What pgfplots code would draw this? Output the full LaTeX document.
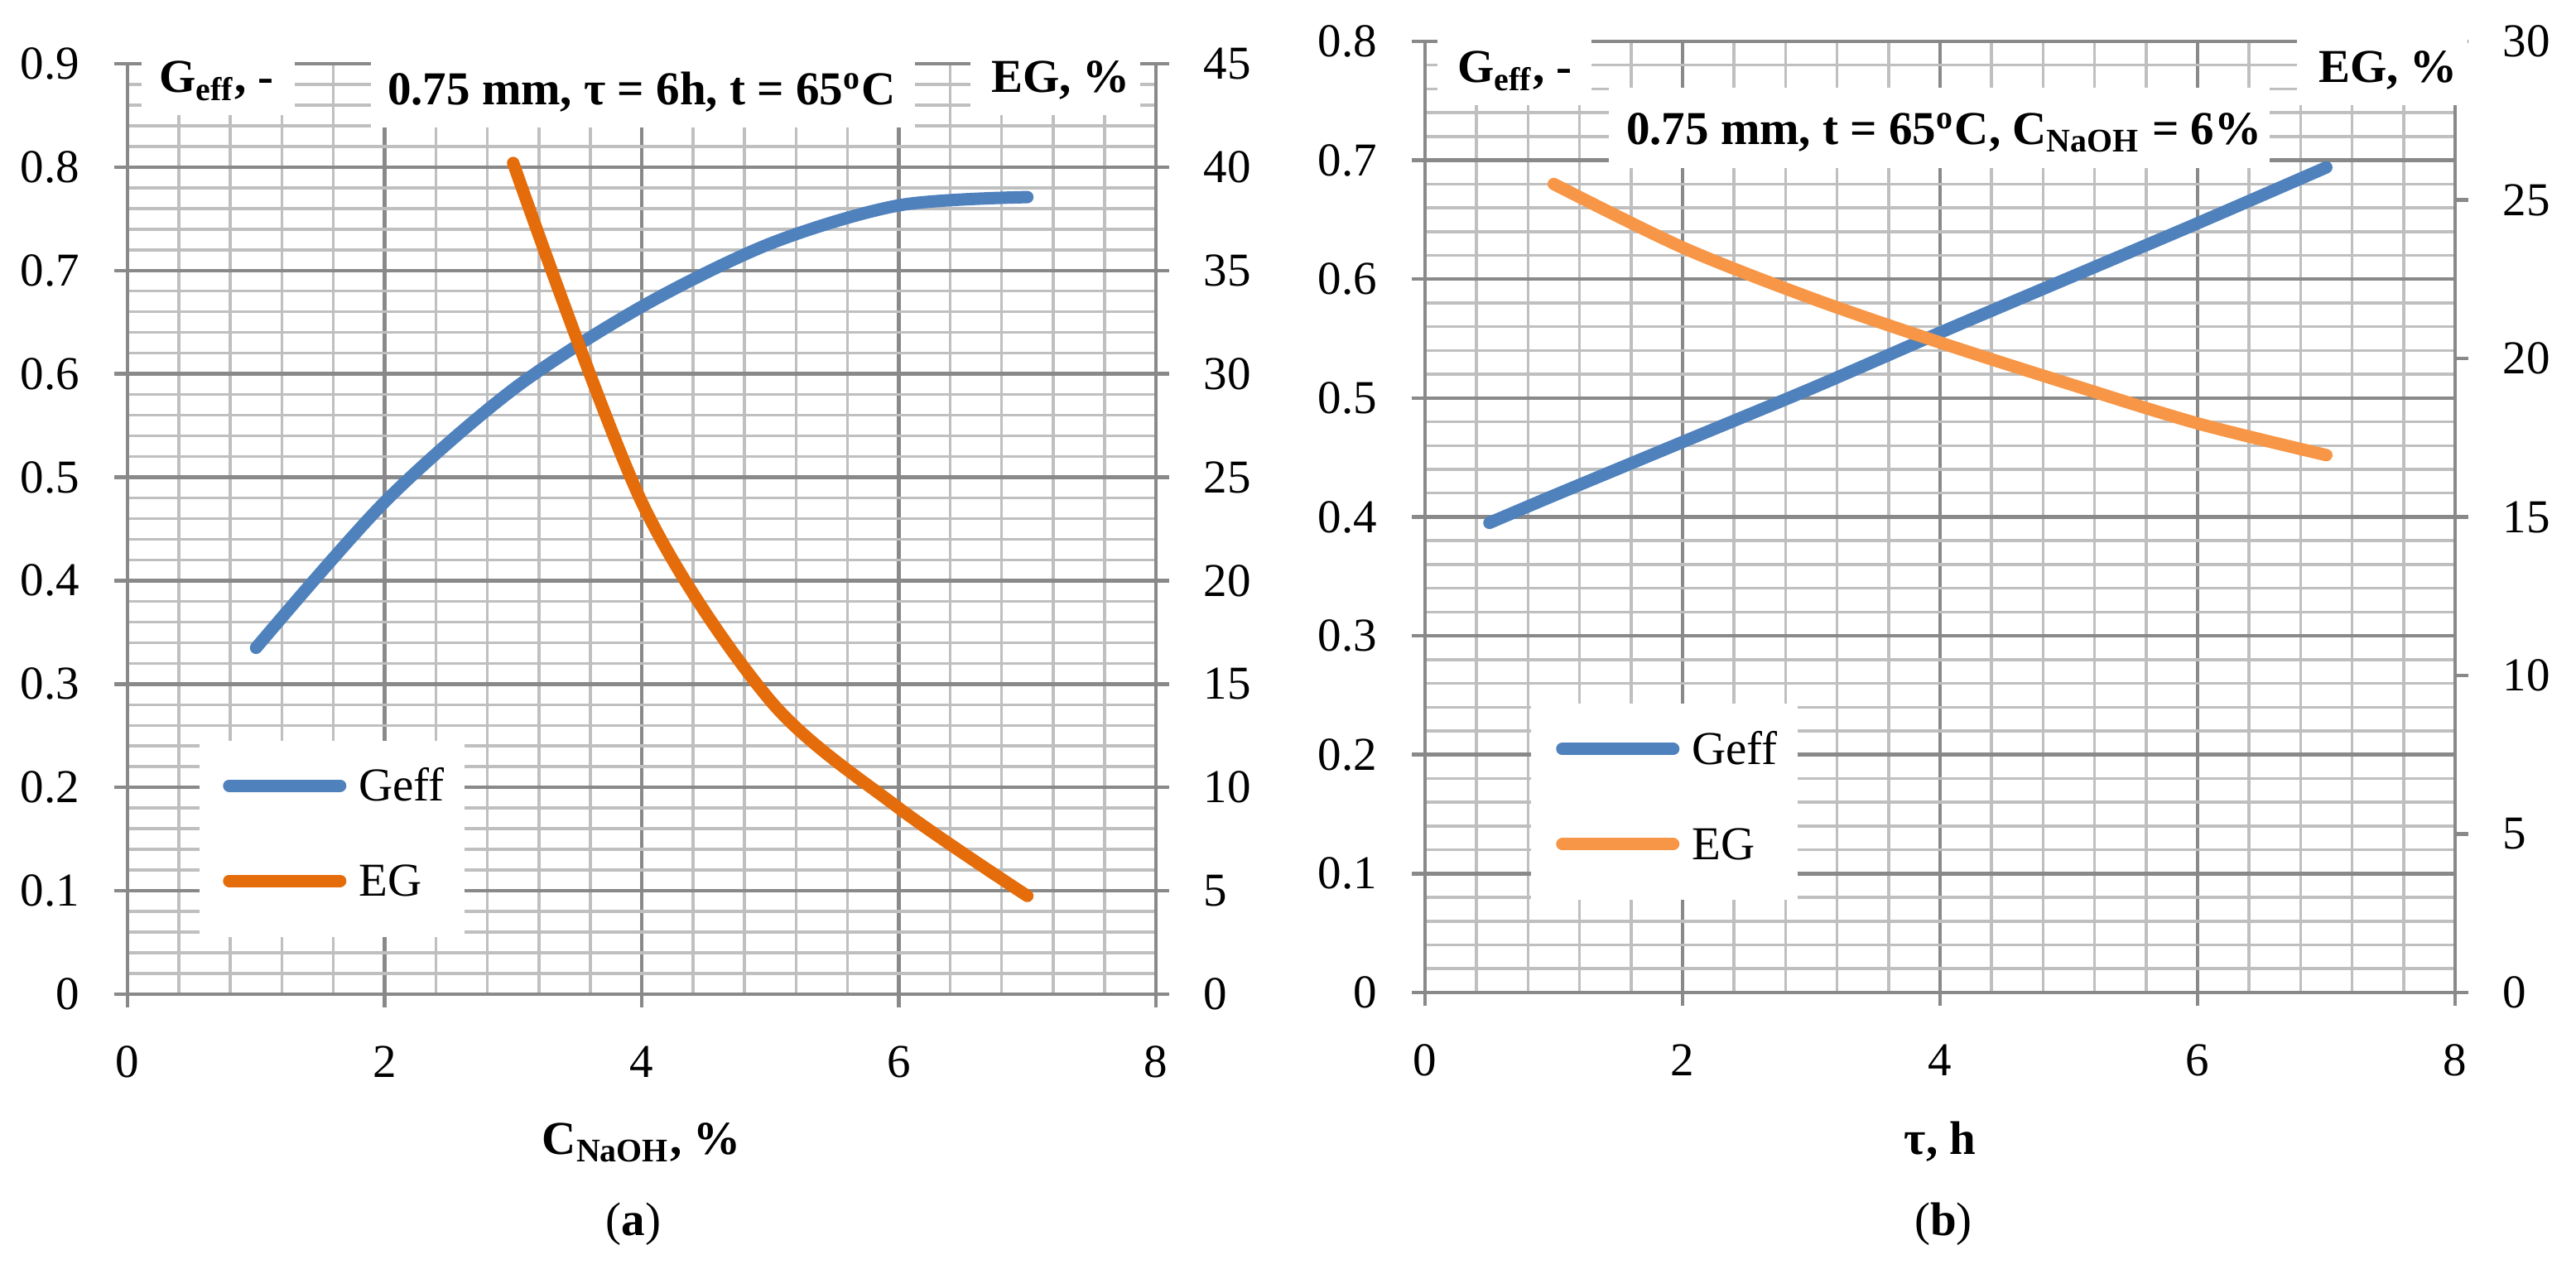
\documentclass[border=0pt]{standalone}
\usepackage{fontspec}
\setmainfont{Liberation Serif}
\usepackage{pgfplots}
\pgfplotsset{compat=1.18}
\definecolor{cblue}{HTML}{4F81BD}
\definecolor{corange}{HTML}{E46C0A}
\definecolor{clorange}{HTML}{F79646}
\definecolor{gmaj}{HTML}{898989}
\definecolor{gmin}{HTML}{BFBFBF}
\tikzset{
  gblue/.style={color=cblue, line width=3pt, line cap=round, line join=round},
  gorange/.style={color=corange, line width=3pt, line cap=round, line join=round},
  glorange/.style={color=clorange, line width=3pt, line cap=round, line join=round},
}
\pgfplotsset{
  base/.style={
    scale only axis, anchor=south west,
    xmin=0, xmax=8, xtick={0,2,4,6,8},
    tick align=outside, major tick length=3.2pt, minor tick length=0pt,
    tick style={gmaj, line width=0.9pt},
    axis line style={-, gmaj, line width=0.9pt},
    /pgf/number format/assume math mode=true,
    xticklabel shift=5.4pt, yticklabel shift=4.4pt,
    ticklabel style={black},
  },
  mainax/.style={base,
    xtick pos=left, ytick pos=left,
    grid=both, minor x tick num=4, minor y tick num=4,
    major grid style={gmaj, line width=0.9pt},
    minor grid style={gmin, line width=0.7pt},
    ymin=0,
    every axis x label/.style={at={(axis description cs:0.5,0)}, anchor=base, yshift=-38.8pt},
  },
  secax/.style={base,
    axis y line*=right, axis x line=none, ymin=0,
    legend cell align=left,
    legend image code/.code={\draw[##1] (0pt,0pt) -- (26.8pt,0pt);},
    legend style={draw=none, fill=none, inner sep=0pt, anchor=center,
      row sep=15.5pt, column sep=3pt,
      nodes={inner sep=0pt, text height=7.5pt, text depth=0pt}},
  },
}
\begin{document}
\fontsize{11.4pt}{13.7pt}\selectfont
\begin{tikzpicture}
\path[use as bounding box] (0,0) rectangle (622.2pt,306.6pt);

% ---------------- panel (a)
\begin{axis}[mainax, at={(30.8pt,66.4pt)}, width=248.4pt, height=224.8pt,
  ymax=0.9, ytick={0,0.1,0.2,0.3,0.4,0.5,0.6,0.7,0.8,0.9},
  xlabel={\textbf{C\textsubscript{NaOH}, \%}}]
\addplot[gblue, smooth] coordinates {(1,0.335) (2,0.476) (3,0.585) (4,0.665) (5,0.726) (6,0.763) (7,0.771)};
\end{axis}
\fill[white] (48.2pt,80.2pt) rectangle (112.2pt,127.6pt);
\begin{axis}[secax, at={(30.8pt,66.4pt)}, width=248.4pt, height=224.8pt,
  ymax=45, ytick={0,5,10,15,20,25,30,35,40,45},
  legend style={at={(0.2005,0.1730)}}]
\addlegendimage{gblue}
\addlegendentry{Geff}
\addplot[gorange, smooth] coordinates {(3,40.2) (4,23.8) (5,14.2) (6,9.0) (7,4.75)};
\addlegendentry{EG}
\end{axis}

% ---------------- panel (b)
\begin{axis}[mainax, at={(344.2pt,66.8pt)}, width=248.8pt, height=229.8pt,
  ymax=0.8, ytick={0,0.1,0.2,0.3,0.4,0.5,0.6,0.7,0.8},
  every axis x label/.style={at={(axis description cs:0.5,0)}, anchor=base, yshift=-39.2pt},
  xlabel={\textbf{τ, h}}]
\addplot[gblue, smooth] coordinates {(0.5,0.395) (1,0.418) (2,0.463) (3,0.508) (4,0.555) (5,0.601) (6,0.647) (7,0.694)};
\end{axis}
\fill[white] (369.8pt,89.2pt) rectangle (434.2pt,136.6pt);
\begin{axis}[secax, at={(344.2pt,66.8pt)}, width=248.8pt, height=229.8pt,
  ymax=30, ytick={0,5,10,15,20,25,30},
  legend style={at={(0.2347,0.2060)}}]
\addlegendimage{gblue}
\addlegendentry{Geff}
\addplot[glorange, smooth] coordinates {(1,25.5) (2,23.5) (3,21.9) (4,20.5) (5,19.2) (6,17.95) (7,16.95)};
\addlegendentry{EG}
\end{axis}

% ---------------- label boxes (a)
\fill[white] (34.2pt,278.8pt) rectangle (71.2pt,295.6pt);
\node[anchor=base west, inner sep=0pt] at (38.2pt,284.2pt) {\textbf{G\textsubscript{eff}, -}};
\fill[white] (89.6pt,275.8pt) rectangle (221.0pt,295.6pt);
\node[anchor=base, inner sep=0pt] at (155pt,281.2pt) {\textbf{0.75 mm, τ = 6h, t = 65\textsuperscript{o}C}};
\fill[white] (234.4pt,278.8pt) rectangle (275.4pt,295.6pt);
\node[anchor=base west, inner sep=0pt] at (239.2pt,284.2pt) {\textbf{EG, \%}};

% ---------------- label boxes (b)
\fill[white] (347.2pt,281.2pt) rectangle (384.4pt,299.6pt);
\node[anchor=base west, inner sep=0pt] at (351.8pt,286.6pt) {\textbf{G\textsubscript{eff}, -}};
\fill[white] (388.6pt,266.0pt) rectangle (548.2pt,285.4pt);
\node[anchor=base west, inner sep=0pt] at (392.6pt,271.6pt) {\textbf{0.75 mm, t = 65\textsuperscript{o}C, C\textsubscript{NaOH} = 6\%}};
\fill[white] (554.8pt,281.2pt) rectangle (596.0pt,299.6pt);
\node[anchor=base west, inner sep=0pt] at (559.8pt,286.6pt) {\textbf{EG, \%}};

% ---------------- captions
\node[anchor=base, inner sep=0pt] at (153pt,8pt) {(\textbf{a})};
\node[anchor=base, inner sep=0pt] at (469.4pt,8pt) {(\textbf{b})};
\end{tikzpicture}
\end{document}
